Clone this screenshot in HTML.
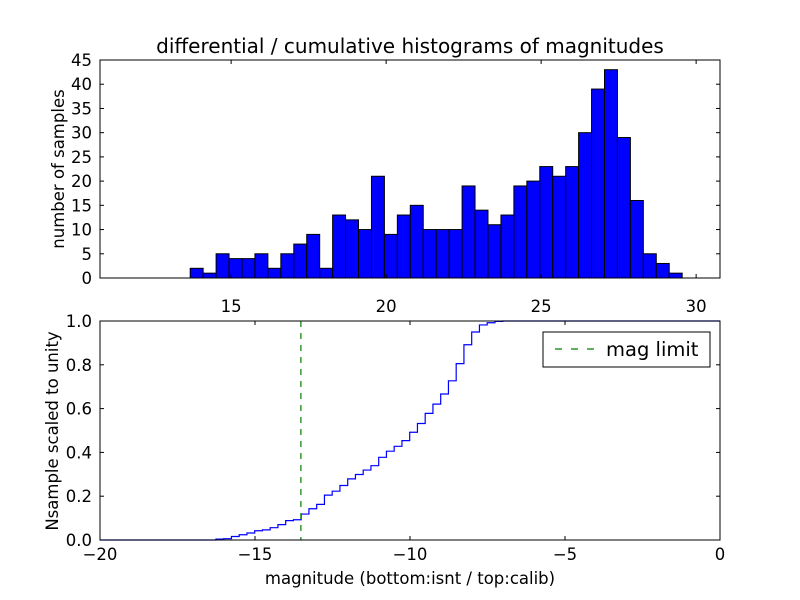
<!DOCTYPE html>
<html><head><meta charset="utf-8"><style>
body{margin:0;background:#fff}
svg{display:block;font-family:"DejaVu Sans","Liberation Sans",sans-serif}
</style></head><body>
<svg id="c" width="800" height="600" xmlns="http://www.w3.org/2000/svg"></svg>
<script>
const counts=[2,1,5,4,4,5,2,5,7,9,2,13,12,10,21,9,13,15,10,10,10,19,14,11,13,19,20,23,21,23,30,39,43,29,16,5,3,1];
const topStart=13.68, topEnd=29.55;
const cumStart=-16.26, cumEnd=-6.76;
const magLimit=-13.52;
const topYTicks=[0,5,10,15,20,25,30,35,40,45];
const topXTicks=[15,20,25,30];
const botYTicks=[0,0.2,0.4,0.6,0.8,1.0];
const botYLabels=["0.0","0.2","0.4","0.6","0.8","1.0"];
const botXTicks=[-20,-15,-10,-5,0];

const svg=document.getElementById('c');
const NS='http://www.w3.org/2000/svg';
function el(t,a,p){const e=document.createElementNS(NS,t);for(const k in a)e.setAttribute(k,a[k]);(p||svg).appendChild(e);return e;}
const T={l:100,r:720,t:60,b:278}, B={l:100,r:720,t:321,b:540};
const tx=v=>T.l+(v-10.77)/20*(T.r-T.l);
const ty=v=>T.b-v/45*(T.b-T.t);
const bx=v=>B.l+(v+20)/20*(B.r-B.l);
const by=v=>B.b-v*(B.b-B.t);

const g1=el('g',{});


const w=(topEnd-topStart)/counts.length;
counts.forEach((c,i)=>{
 const x0=tx(topStart+i*w),x1=tx(topStart+(i+1)*w);
 const r=el('rect',{x:x0,y:ty(c),width:x1-x0,height:ty(0)-ty(c),fill:'#0000ff',stroke:'#000','stroke-width':1},g1);
 
 
});
const total=counts.reduce((a,b)=>a+b,0);
const cw=(cumEnd-cumStart)/counts.length;
let d='M'+bx(-20)+','+by(0)+' L'+bx(cumStart)+','+by(0);
let cum=0;
counts.forEach((c,i)=>{cum+=c;const y=by(cum/total);d+=' L'+bx(cumStart+i*cw)+','+y+' L'+bx(cumStart+(i+1)*cw)+','+y;});
d+=' L'+bx(0)+','+by(1);
const cl=el('path',{d:d,fill:'none',stroke:'#0000ff','stroke-width':1.2});


const ml=el('line',{x1:bx(magLimit),x2:bx(magLimit),y1:B.t,y2:B.b,stroke:'#008000','stroke-width':1.2,'stroke-dasharray':'6,6'});



function frame(A,name){const r=el('rect',{x:A.l,y:A.t,width:A.r-A.l,height:A.b-A.t,fill:'none',stroke:'#000','stroke-width':1});}
frame(T,'top-axes-frame');frame(B,'bottom-axes-frame');
function text(x,y,s,anchor,size,name,rot){const t=el('text',{x:x,y:y,'font-size':size,'text-anchor':anchor,fill:'#000'});if(rot)t.setAttribute('transform','rotate(-90 '+x+' '+y+')');t.textContent=s;return t;}
topYTicks.forEach(v=>{const y=ty(v);el('line',{x1:T.l,x2:T.l+4,y1:y,y2:y,stroke:'#000'});el('line',{x1:T.r,x2:T.r-4,y1:y,y2:y,stroke:'#000'});text(T.l-8,y+6,String(v),'end',16.5,'top-y-tick-label');});
topXTicks.forEach(v=>{const x=tx(v);el('line',{x1:x,x2:x,y1:T.b,y2:T.b-4,stroke:'#000'});el('line',{x1:x,x2:x,y1:T.t,y2:T.t+4,stroke:'#000'});text(x,T.b+34,String(v),'middle',16.5,'top-x-tick-label');});
botYTicks.forEach((v,i)=>{const y=by(v);el('line',{x1:B.l,x2:B.l+4,y1:y,y2:y,stroke:'#000'});el('line',{x1:B.r,x2:B.r-4,y1:y,y2:y,stroke:'#000'});text(B.l-8,y+6,botYLabels[i],'end',16.5,'bottom-y-tick-label');});
botXTicks.forEach(v=>{const x=bx(v);el('line',{x1:x,x2:x,y1:B.b,y2:B.b-4,stroke:'#000'});el('line',{x1:x,x2:x,y1:B.t,y2:B.t+4,stroke:'#000'});text(x,B.b+20,(v<0?'\u2212'+(-v):String(v)),'middle',16.5,'bottom-x-tick-label');});
text(410,53,'differential / cumulative histograms of magnitudes','middle',20,'chart-title');
text(64,169,'number of samples','middle',16.5,'top-y-axis-title',true);
text(58,431,'Nsample scaled to unity','middle',16.5,'bottom-y-axis-title',true);
text(410,584,'magnitude (bottom:isnt / top:calib)','middle',16.5,'x-axis-title');
const lg=el('g',{});
el('rect',{x:543,y:332,width:167,height:35,fill:'#fff',stroke:'#000'},lg);
el('line',{x1:555,x2:595,y1:349,y2:349,stroke:'#008000','stroke-width':1.2,'stroke-dasharray':'7,9'},lg);
const lt=el('text',{x:606,y:356,'font-size':19.5,fill:'#000'},lg);lt.textContent='mag limit';

</script>
</body></html>
